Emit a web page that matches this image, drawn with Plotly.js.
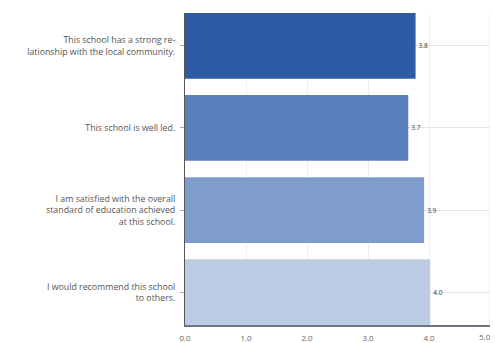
<!DOCTYPE html>
<html>
<head>
<meta charset="utf-8">
<script src="https://cdn.plot.ly/plotly-3.0.1.min.js"></script>
<style>html,body{margin:0;padding:0;background:#fff;overflow:hidden;}#chart{width:495px;height:343px;}</style>
</head>
<body>
<div id="chart"></div>
<script>
const categories = [
  "This school has a strong re-<br>lationship with the local community.",
  "This school is well led.",
  "I am satisfied with the overall<br>standard of education achieved<br>at this school.",
  "I would recommend this school<br>to others."
];
const values = [3.78, 3.66, 3.92, 4.02];
const labels = ["3.8", "3.7", "3.9", "4.0"];
const barColors = ["#2e5aa6", "#5a7fbb", "#7f9dcc", "#bccbe4"];
const xTicks = [0, 1, 2, 3, 4, 5];
const xTickText = ["0.0", "1.0", "2.0", "3.0", "4.0", "5.0"];

const trace = {
  type: "bar",
  orientation: "h",
  x: values,
  y: categories,
  text: labels,
  textposition: "outside",
  textfont: {family: "Open Sans, sans-serif", size: 6.5, color: "#333"},
  cliponaxis: false,
  width: 0.8,
  marker: {color: barColors, line: {width: 0}},
  hoverinfo: "none"
};

const layout = {
  width: 495,
  height: 343,
  margin: {l: 185, r: 5, t: 13, b: 18, pad: 0},
  paper_bgcolor: "#ffffff",
  plot_bgcolor: "#ffffff",
  showlegend: false,
  font: {family: "Open Sans, sans-serif", size: 8, color: "#555"},
  xaxis: {
    range: [0, 5],
    tickvals: xTicks.slice(0, 5),
    ticktext: xTickText.slice(0, 5),
    showgrid: true,
    gridcolor: "#efefef",
    gridwidth: 1,
    zeroline: false,
    showline: true,
    linecolor: "#6e7480",
    linewidth: 2,
    ticks: "",
    ticklabelstandoff: 4,
    tickfont: {size: 8, color: "#666"},
    fixedrange: true
  },
  yaxis: {
    type: "category",
    range: [3.4, -0.4],
    showgrid: true,
    gridcolor: "#e6e6e6",
    gridwidth: 1,
    zeroline: false,
    showline: true,
    linecolor: "#555",
    linewidth: 1,
    ticks: "outside",
    ticklen: 4,
    tickcolor: "#aaa",
    ticklabelstandoff: 3,
    tickfont: {size: 8.8, color: "#555"},
    fixedrange: true
  },
  shapes: [{
    type: "line", xref: "x", yref: "paper",
    x0: xTicks[5], x1: xTicks[5], y0: 0, y1: 1,
    line: {color: "#e6e6e6", width: 1}, layer: "below"
  }],
  annotations: [{
    xref: "x", yref: "paper",
    x: xTicks[5], y: 0,
    text: xTickText[5],
    showarrow: false,
    xanchor: "right", yanchor: "top",
    xshift: 3,
    yshift: -4,
    font: {family: "Open Sans, sans-serif", size: 8, color: "#666"}
  }]
};

Plotly.newPlot("chart", [trace], layout, {displayModeBar: false, staticPlot: true});
</script>
</body>
</html>
